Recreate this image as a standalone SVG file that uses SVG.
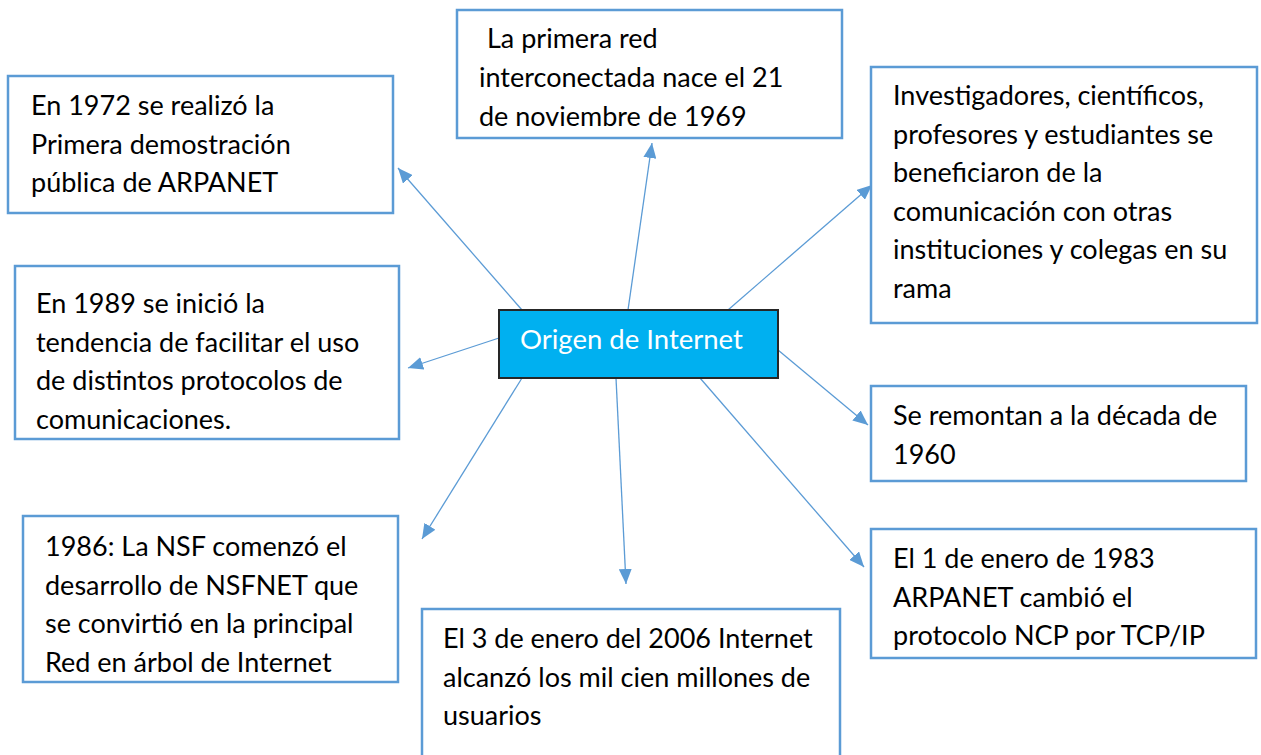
<svg xmlns="http://www.w3.org/2000/svg" width="1261" height="755" viewBox="0 0 1261 755">
<style>
.box{fill:#ffffff;stroke:#5B9BD5;stroke-width:2.5}
.t{font-family:Lato,"Liberation Sans",sans-serif;font-size:27px;fill:#000000}
.c{fill:#00B0F0;stroke:#262626;stroke-width:2}
.ct{font-family:Lato,"Liberation Sans",sans-serif;font-size:27.5px;fill:#ffffff}
.ln{stroke:#5B9BD5;stroke-width:1.3;fill:none;marker-end:url(#ah)}
</style>
<defs>
<marker id="ah" viewBox="0 0 15 13" refX="15" refY="6.5" markerWidth="15" markerHeight="13" markerUnits="userSpaceOnUse" orient="auto">
<path d="M0,0 L15,6.5 L0,13 z" fill="#5B9BD5"/>
</marker>
</defs>
<rect width="1261" height="755" fill="#ffffff"/>
<g id="connectors">
<line class="ln" x1="522" y1="310" x2="398" y2="168"/>
<line class="ln" x1="628" y1="310" x2="652" y2="143"/>
<line class="ln" x1="728" y1="310" x2="872" y2="185"/>
<line class="ln" x1="499" y1="338" x2="408" y2="368"/>
<line class="ln" x1="778" y1="350" x2="868" y2="425"/>
<line class="ln" x1="700" y1="378" x2="864" y2="567"/>
<line class="ln" x1="616" y1="378" x2="626" y2="584"/>
<line class="ln" x1="522" y1="378" x2="422" y2="539"/>
</g>
<g id="center">
<rect class="c" x="499" y="310" width="279" height="68"/>
<text class="ct" x="520" y="349">Origen de Internet</text>
</g>
<g id="n1972">
<rect class="box" x="8" y="76" width="385" height="137"/>
<text class="t" x="31" y="115">En 1972 se realizó la</text>
<text class="t" x="31" y="153.5">Primera demostración</text>
<text class="t" x="31" y="192">pública de ARPANET</text>
</g>
<g id="n1969">
<rect class="box" x="457" y="10" width="385" height="128"/>
<text class="t" x="487" y="48">La primera red</text>
<text class="t" x="479" y="87">interconectada nace el 21</text>
<text class="t" x="479" y="126">de noviembre de 1969</text>
</g>
<g id="nInvest">
<rect class="box" x="871" y="67" width="386" height="256"/>
<text class="t" x="893" y="105">Investigadores, científicos,</text>
<text class="t" x="893" y="143.5">profesores y estudiantes se</text>
<text class="t" x="893" y="182">beneficiaron de la</text>
<text class="t" x="893" y="220.5">comunicación con otras</text>
<text class="t" x="893" y="259">instituciones y colegas en su</text>
<text class="t" x="893" y="297.5">rama</text>
</g>
<g id="n1989">
<rect class="box" x="15" y="266" width="384" height="173"/>
<text class="t" x="36" y="313">En 1989 se inició la</text>
<text class="t" x="36" y="351.5">tendencia de facilitar el uso</text>
<text class="t" x="36" y="390">de distintos protocolos de</text>
<text class="t" x="36" y="428.5">comunicaciones.</text>
</g>
<g id="n1960">
<rect class="box" x="871" y="386" width="375" height="95"/>
<text class="t" x="893" y="425">Se remontan a la década de</text>
<text class="t" x="893" y="463.5">1960</text>
</g>
<g id="n1983">
<rect class="box" x="871" y="529" width="385" height="129"/>
<text class="t" x="893" y="568">El 1 de enero de 1983</text>
<text class="t" x="893" y="606.5">ARPANET cambió el</text>
<text class="t" x="893" y="645">protocolo NCP por TCP/IP</text>
</g>
<g id="n1986">
<rect class="box" x="23" y="516" width="375" height="166"/>
<text class="t" x="45" y="556">1986: La NSF comenzó el</text>
<text class="t" x="45" y="594.5">desarrollo de NSFNET que</text>
<text class="t" x="45" y="633">se convirtió en la principal</text>
<text class="t" x="45" y="671.5">Red en árbol de Internet</text>
</g>
<g id="n2006">
<rect class="box" x="422" y="609" width="418" height="160"/>
<text class="t" x="443" y="648">El 3 de enero del 2006 Internet</text>
<text class="t" x="443" y="687">alcanzó los mil cien millones de</text>
<text class="t" x="443" y="725">usuarios</text>
</g>
</svg>
